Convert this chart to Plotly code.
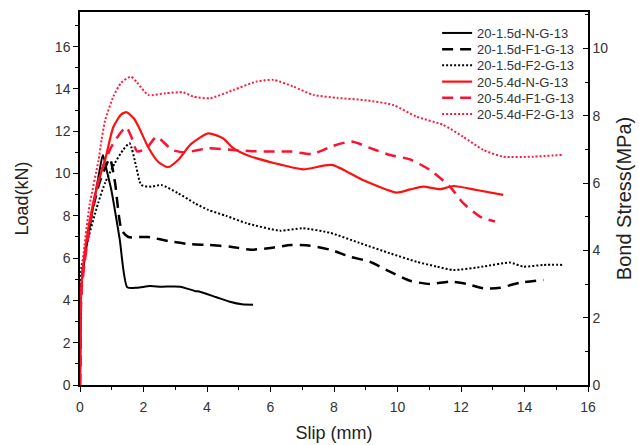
import plotly.graph_objects as go

# ---------------- data (Slip mm, Load kN) ----------------
names = ["20-1.5d-N-G-13", "20-1.5d-F1-G-13", "20-1.5d-F2-G-13",
         "20-5.4d-N-G-13", "20-5.4d-F1-G-13", "20-5.4d-F2-G-13"]

x_15N = [0, 0.02, 0.05, 0.2, 0.4, 0.6, 0.72, 0.85, 0.99, 1.25, 1.49, 1.8, 2.2, 2.56, 3.15, 3.61, 3.78, 4.3, 4.72, 5.1, 5.45]
y_15N = [0, 3.0, 4.8, 6.5, 8.3, 10.0, 10.88, 10.1, 9.2, 6.9, 4.62, 4.6, 4.68, 4.65, 4.65, 4.45, 4.41, 4.15, 3.94, 3.82, 3.8]

x_15F1 = [0, 0.02, 0.05, 0.2, 0.4, 0.6, 0.8, 0.94, 1.1, 1.31, 1.52, 1.94, 2.14, 2.88, 3.46, 4.06, 4.75, 5.38, 6.0, 6.65, 7.24, 7.9, 8.5, 9.13, 9.76, 10.39, 11.02, 11.65, 12.18, 12.7, 13.23, 13.86, 14.6]
y_15F1 = [0, 3.2, 4.9, 6.6, 8.3, 9.5, 10.3, 10.72, 9.6, 7.33, 7.0, 7.0, 7.0, 6.78, 6.66, 6.62, 6.54, 6.4, 6.48, 6.62, 6.59, 6.39, 6.07, 5.83, 5.36, 4.93, 4.78, 4.89, 4.78, 4.57, 4.6, 4.84, 4.97]

x_15F2 = [0, 0.02, 0.05, 0.2, 0.57, 0.8, 1.1, 1.35, 1.56, 1.77, 1.93, 2.25, 2.56, 3.09, 3.61, 4.04, 4.6, 5.25, 6.3, 7.0, 7.87, 8.8, 9.76, 10.6, 11.23, 11.76, 12.7, 13.54, 13.96, 14.6, 15.22]
y_15F2 = [0, 4.0, 5.6, 6.6, 8.6, 9.6, 10.5, 11.1, 11.43, 10.33, 9.46, 9.38, 9.46, 9.07, 8.6, 8.28, 8.0, 7.65, 7.3, 7.41, 7.2, 6.72, 6.23, 5.83, 5.6, 5.44, 5.6, 5.79, 5.6, 5.68, 5.68]

x_54N = [0, 0.02, 0.05, 0.2, 0.4, 0.6, 0.8, 1.05, 1.3, 1.47, 1.7, 1.85, 2.14, 2.46, 2.77, 3.09, 3.5, 4.04, 4.5, 4.83, 5.25, 6.1, 7.03, 7.93, 8.9, 9.97, 10.4, 10.81, 11.34, 11.76, 12.49, 13.33]
y_54N = [0, 3.5, 4.8, 6.8, 8.5, 9.7, 10.7, 12.2, 12.8, 12.9, 12.6, 12.2, 11.27, 10.56, 10.3, 10.64, 11.4, 11.9, 11.67, 11.2, 10.88, 10.5, 10.2, 10.41, 9.7, 9.1, 9.25, 9.38, 9.26, 9.41, 9.22, 8.99]

x_54F1 = [0, 0.02, 0.05, 0.3, 0.6, 1.0, 1.45, 1.6, 1.8, 2.1, 2.41, 2.9, 3.3, 4.06, 4.75, 5.4, 6.0, 6.65, 7.33, 7.95, 8.55, 9.22, 9.76, 10.39, 11.02, 11.65, 12.07, 12.6, 13.07]
y_54F1 = [0, 3.0, 4.5, 7.5, 9.8, 11.3, 12.2, 11.8, 11.05, 11.2, 11.74, 11.12, 11.0, 11.2, 11.12, 11.06, 11.04, 11.04, 10.93, 11.3, 11.51, 11.16, 10.88, 10.67, 10.17, 9.38, 8.6, 7.96, 7.73]

x_54F2 = [0, 0.02, 0.1, 0.3, 0.58, 0.68, 0.79, 1.05, 1.3, 1.6, 1.8, 2.15, 2.7, 3.25, 3.57, 4.09, 4.83, 5.56, 6.1, 6.72, 7.35, 8.1, 9.03, 9.87, 10.6, 11.44, 12.07, 12.7, 13.33, 14.28, 15.17]
y_54F2 = [0, 4.0, 6.0, 8.5, 10.6, 11.6, 12.5, 13.64, 14.3, 14.58, 14.3, 13.72, 13.8, 13.84, 13.64, 13.56, 13.95, 14.35, 14.43, 14.11, 13.72, 13.58, 13.46, 13.24, 12.69, 12.3, 11.74, 11.12, 10.8, 10.8, 10.88]

xs = [x_15N, x_15F1, x_15F2, x_54N, x_54F1, x_54F2]
ys = [y_15N, y_15F1, y_15F2, y_54N, y_54F1, y_54F2]
colors = ["black", "black", "black", "#ff1010", "#ff1030", "#ff1a3a"]
dashes = ["solid", "11px,7px", "2px,2px", "solid", "11px,7px", "2px,2px"]
widths = [2, 2.5, 2, 2.2, 2.5, 2]

# axis ranges
load_max = 17.64
stress_max = 11.08

FONT = "Liberation Sans, Arial, sans-serif"
legend_font = dict(family=FONT, size=13, color="#333")

fig = go.Figure()
legend_cfg = {}
for i, (n, x, y, c, d, w) in enumerate(zip(names, xs, ys, colors, dashes, widths)):
    lg = "legend" if i == 0 else f"legend{i + 1}"
    fig.add_trace(go.Scatter(x=x, y=y, name=n, mode="lines", legend=lg,
                             line=dict(color=c, dash=d, width=w, shape="spline", smoothing=0.6)))
    # one legend per series so rows can sit at the reference spacing
    yc_px = 33 + 16.2 * i
    legend_cfg[lg] = dict(x=0.703, y=(385 - yc_px) / 373, xanchor="left", yanchor="middle",
                          bgcolor="rgba(0,0,0,0)", borderwidth=0, font=legend_font,
                          itemwidth=30)

# invisible trace for the secondary axis
fig.add_trace(go.Scatter(x=[0], y=[0], yaxis="y2", mode="lines",
                         line=dict(width=0), showlegend=False, hoverinfo="skip"))

tickfont = dict(family=FONT, size=14, color="#333")
titlefont = dict(family=FONT, size=18, color="#222")

fig.update_layout(
    width=639, height=445,
    margin=dict(l=80, r=51, t=12, b=60),
    paper_bgcolor="white", plot_bgcolor="white",
    showlegend=True,
    xaxis=dict(range=[0, 16], dtick=2, tick0=0, showgrid=False, zeroline=False,
               showline=True, linecolor="black", linewidth=1.5, mirror=True,
               ticks="outside", ticklen=5, tickwidth=1.2, tickcolor="black",
               ticklabelstandoff=3, automargin=False,
               minor=dict(dtick=1, ticks="outside", ticklen=3, tickcolor="black"),
               tickfont=tickfont,
               title=dict(text="Slip (mm)", font=titlefont, standoff=13)),
    yaxis=dict(range=[0, load_max], dtick=2, tick0=0, showgrid=False, zeroline=False,
               showline=True, linecolor="black", linewidth=1.5,
               ticks="outside", ticklen=5, tickwidth=1.2, tickcolor="black",
               automargin=False,
               minor=dict(dtick=1, ticks="outside", ticklen=3, tickcolor="black"),
               tickfont=tickfont,
               title=dict(text="Load(kN)", font=titlefont, standoff=22)),
    yaxis2=dict(range=[0, stress_max], dtick=2, tick0=0, overlaying="y", side="right",
                showgrid=False, zeroline=False,
                showline=True, linecolor="black", linewidth=1.5,
                ticks="inside", ticklen=5, tickwidth=1.2, tickcolor="black",
                automargin=False,
                minor=dict(dtick=1, ticks="inside", ticklen=3, tickcolor="black"),
                tickfont=tickfont,
                title=dict(text="Bond Stress(MPa)", font=dict(family=FONT, size=20, color="#222"),
                           standoff=10)),
    **legend_cfg,
)

fig.write_html("out.html")
